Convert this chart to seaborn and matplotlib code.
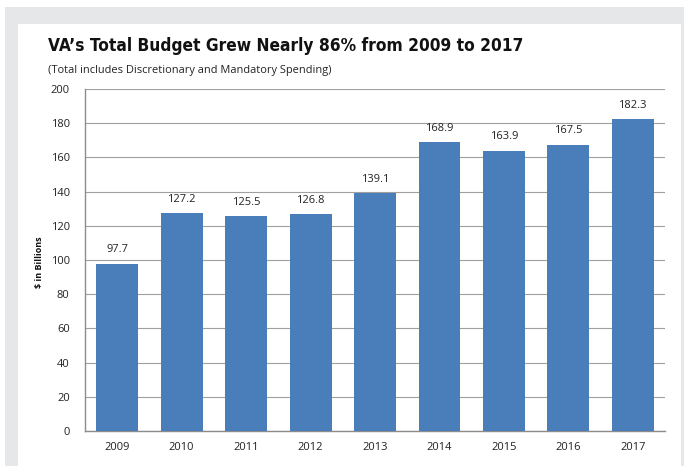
import matplotlib
matplotlib.use("Agg")
import matplotlib.pyplot as plt
import seaborn as sns
import pandas as pd
from matplotlib.patches import Rectangle

years = ["2009", "2010", "2011", "2012", "2013", "2014", "2015", "2016", "2017"]
budget = [97.7, 127.2, 125.5, 126.8, 139.1, 168.9, 163.9, 167.5, 182.3]
yticks = [0, 20, 40, 60, 80, 100, 120, 140, 160, 180, 200]

title = "VA\u2019s Total Budget Grew Nearly 86% from 2009 to 2017"
subtitle = "(Total includes Discretionary and Mandatory Spending)"
ylabel = "$ in Billions"

sns.set_theme(style="white")
plt.rcParams['font.family'] = ['Open Sans', 'DejaVu Sans']

W, H = 684, 466
fig = plt.figure(figsize=(W / 100, H / 100), dpi=100)
fig.patch.set_facecolor("white")
fig.add_artist(Rectangle((5 / W, 0), (684 - 5) / W, (466 - 7) / H, transform=fig.transFigure,
                         facecolor="#e6e7e8", edgecolor="none", zorder=0))
fig.add_artist(Rectangle((18 / W, 0), (681 - 18) / W, (466 - 24) / H, transform=fig.transFigure,
                         facecolor="white", edgecolor="none", zorder=0))

left, right, top, bottom = 85, 665, 89, 431
ax = fig.add_axes([left / W, 1 - bottom / H, (right - left) / W, (bottom - top) / H])
ax.set_facecolor("none")

df = pd.DataFrame({"year": years, "budget": budget})
sns.barplot(data=df, x="year", y="budget", color="#4a7ebb", saturation=1, width=0.65,
            linewidth=0, ax=ax, zorder=3)

ax.set_ylim(0, 200)
ax.set_yticks(yticks)
ax.set_yticklabels([str(t) for t in yticks], fontsize=8, color="#222222")
ax.tick_params(axis="x", labelsize=8, colors="#222222", length=0, pad=8)
ax.tick_params(axis="y", length=0, pad=11)
ax.yaxis.grid(True, color="#a0a0a0", linewidth=0.8, zorder=0)
ax.set_axisbelow(True)
for s in ["top", "right"]:
    ax.spines[s].set_visible(False)
for s in ["left", "bottom"]:
    ax.spines[s].set_color("#8c8c8c")
    ax.spines[s].set_linewidth(1.0)
ax.set_xlabel("")
ax.set_ylabel("")

for i, v in enumerate(budget):
    ax.text(i, v + 5, f"{v:.1f}", ha="center", va="bottom", fontsize=8, color="#222222")

t = fig.text(48 / W, 1 - 46 / H, title, fontsize=15, fontweight="bold", fontstretch="condensed",
             family=['DejaVu Sans'], va="center", ha="left", color="#111111")
s = fig.text(48 / W, 1 - 70 / H, subtitle, fontsize=7, va="center", ha="left", color="#222222")
fig.canvas.draw()
t.set_fontsize(15 * 476 / t.get_window_extent().width)
s.set_fontsize(7 * 284 / s.get_window_extent().width)
fig.text(40 / W, 1 - 262 / H, ylabel, fontsize=6.5, fontweight="bold", rotation=90,
         va="center", ha="center", color="#111111")

fig.savefig("out.png", dpi=100)
